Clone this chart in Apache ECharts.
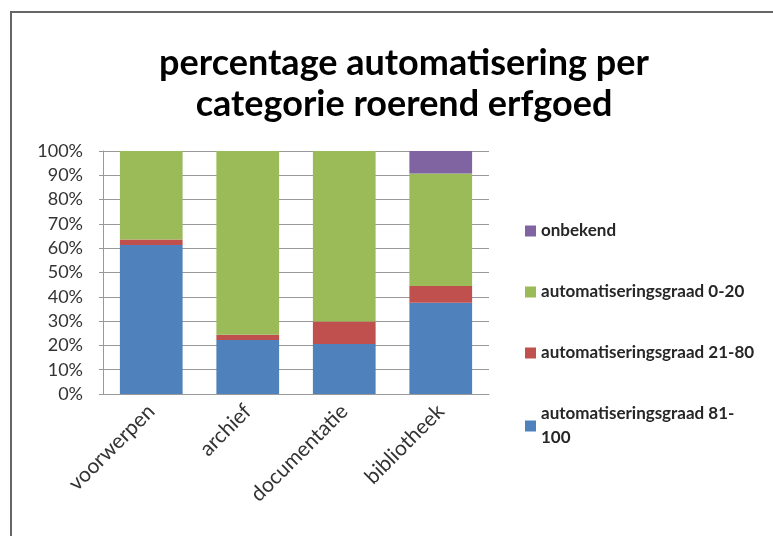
<!DOCTYPE html>
<html>
<head>
<meta charset="utf-8">
<script src="https://cdn.jsdelivr.net/npm/echarts@6/dist/echarts.min.js"></script>
<style>
html,body{margin:0;padding:0;background:#fff;}
#c{width:773px;height:536px;}
</style>
</head>
<body>
<div id="c"></div>
<script>
const categories = ['voorwerpen', 'archief', 'documentatie', 'bibliotheek'];
const seriesNames = ['automatiseringsgraad 81-100', 'automatiseringsgraad 21-80', 'automatiseringsgraad 0-20', 'onbekend'];
const grade81to100 = [61.3, 22.2, 20.6, 37.6];
const grade21to80 = [2.3, 2.2, 9.2, 6.8];
const grade0to20 = [36.4, 75.6, 70.2, 46.3];
const unknown = [0, 0, 0, 9.3];
const yTicks = [0, 10, 20, 30, 40, 50, 60, 70, 80, 90, 100];

const colors = ['#4F81BD', '#C0504D', '#9BBB59', '#8064A2'];
const values = [grade81to100, grade21to80, grade0to20, unknown];
const font = 'Lato, "Open Sans", sans-serif';

const chart = echarts.init(document.getElementById('c'));
chart.setOption({
  animation: false,
  backgroundColor: '#ffffff',
  title: {
    text: 'percentage automatisering per\ncategorie roerend erfgoed',
    left: 399, top: 38, textAlign: 'center',
    textStyle: { fontFamily: font, fontSize: 36, fontWeight: 'bold', color: '#000', lineHeight: 41 }
  },
  graphic: [
    { type: 'line', shape: { x1: 10, y1: 12, x2: 773, y2: 12 }, style: { stroke: '#666', lineWidth: 2 } },
    { type: 'line', shape: { x1: 11, y1: 12, x2: 11, y2: 536 }, style: { stroke: '#666', lineWidth: 2 } }
  ],
  legend: {
    orient: 'vertical',
    left: 520, top: 214,
    itemGap: 37,
    itemWidth: 11, itemHeight: 11,
    icon: 'rect',
    data: seriesNames.slice().reverse(),
    formatter: function (n) { return n.replace('81-100', '81-\n100'); },
    textStyle: { fontFamily: font, fontSize: 17, fontWeight: 'bold', color: '#262626', lineHeight: 24 }
  },
  grid: { left: 103, right: 284, top: 151, bottom: 142, containLabel: false },
  xAxis: {
    type: 'category',
    data: categories,
    axisLine: { lineStyle: { color: '#999' } },
    axisTick: { show: false },
    axisLabel: { rotate: 45, fontFamily: font, fontSize: 21, color: '#333', margin: 14 }
  },
  yAxis: {
    type: 'value',
    min: 0, max: 100, interval: 10,
    axisLine: { show: true, lineStyle: { color: '#999' } },
    axisTick: { show: true, length: 4, lineStyle: { color: '#999' } },
    splitLine: { lineStyle: { color: '#999' } },
    axisLabel: {
      fontFamily: font, fontSize: 18, color: '#333', margin: 20,
      formatter: function (v) { return yTicks.indexOf(v) >= 0 ? v + '%' : ''; }
    }
  },
  series: seriesNames.map(function (name, i) {
    return {
      name: name,
      type: 'bar',
      stack: 'total',
      barCategoryGap: '35%',
      data: values[i],
      itemStyle: { color: colors[i] }
    };
  })
});
</script>
</body>
</html>
